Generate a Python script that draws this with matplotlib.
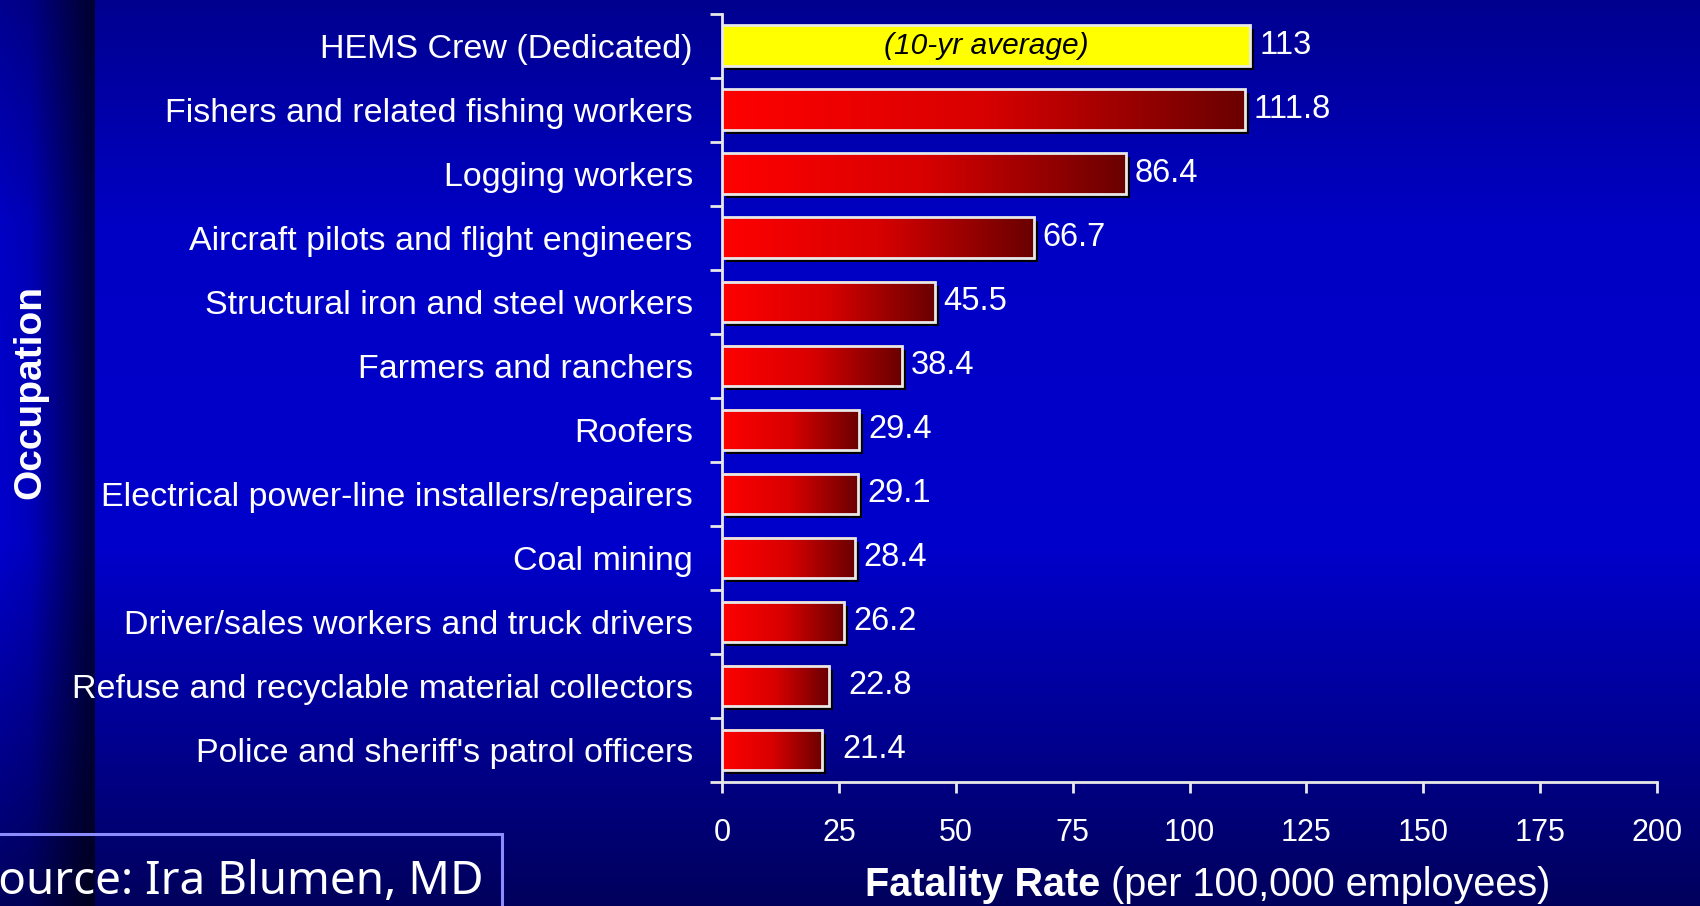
import numpy as np
import matplotlib
matplotlib.use("Agg")
import matplotlib.pyplot as plt
from matplotlib import transforms
from matplotlib.colors import LinearSegmentedColormap
from matplotlib.patches import Rectangle

# ---------------- data ----------------
categories = [
    "HEMS Crew (Dedicated)",
    "Fishers and related fishing workers",
    "Logging workers",
    "Aircraft pilots and flight engineers",
    "Structural iron and steel workers",
    "Farmers and ranchers",
    "Roofers",
    "Electrical power-line installers/repairers",
    "Coal mining",
    "Driver/sales workers and truck drivers",
    "Refuse and recyclable material collectors",
    "Police and sheriff's patrol officers",
]
values = [113, 111.8, 86.4, 66.7, 45.5, 38.4, 29.4, 29.1, 28.4, 26.2, 22.8, 21.4]
value_labels = ["113", "111.8", "86.4", "66.7", "45.5", "38.4", "29.4", "29.1",
                "28.4", "26.2", "22.8", "21.4"]
highlight_note = "(10-yr average)"
x_ticks = [0, 25, 50, 75, 100, 125, 150, 175, 200]
x_label_bold = "Fatality Rate"
x_label_rest = " (per 100,000 employees)"
y_label = "Occupation"
source_text = "Source: Ira Blumen, MD"

W, H = 1700, 906
fig = plt.figure(figsize=(W / 100, H / 100), dpi=100)

# ---------------- background ----------------
yy = np.linspace(0, 1, H)[:, None]
b = np.interp(yy, [0.0, 0.25, 0.6, 1.0], [0.56, 0.77, 0.80, 0.36])
strip = np.ones((1, W))
strip[0, :95] = np.interp(np.arange(95), [0, 30, 88, 94], [1.0, 0.92, 0.36, 0.36])
img = np.zeros((H, W, 3))
img[..., 2] = b * strip
bg = fig.add_axes([0, 0, 1, 1], zorder=-10)
bg.imshow(img, aspect="auto", extent=[0, W, H, 0], interpolation="bilinear")
bg.set_xlim(0, W)
bg.set_ylim(H, 0)
bg.axis("off")

# source box (text runs off the left edge as in the original slide)
bg.add_patch(Rectangle((-10, 834), 512, 100, fill=False, edgecolor="#8C8CFF", lw=2.2))
bg.text(-27, 894, source_text, color="white", fontsize=33,
        family=["Noto Sans", "DejaVu Sans"], va="baseline", ha="left")

# ---------------- main axes ----------------
left, right, top, bottom = 722, 1657, 13.5, 782
ax = fig.add_axes([left / W, 1 - bottom / H, (right - left) / W, (bottom - top) / H])
ax.set_facecolor("none")
n = len(categories)
ypos = np.arange(n)

bh = 0.63
shadow_tr = transforms.offset_copy(ax.transData, fig=fig, x=4, y=-4, units="dots")
ax.barh(ypos, values, height=bh, color="black", transform=shadow_tr, zorder=2)

red_cmap = LinearSegmentedColormap.from_list("redgrad", ["#FF0000", "#D80000", "#6A0000"])
grad = np.linspace(0, 1, 256)[None, :]
for i, v in enumerate(values):
    if i == 0:
        ax.barh(i, v, height=bh, color="#FFFF00", edgecolor="#E8E8E8", lw=2, zorder=3)
        ax.text(v / 2, i, highlight_note, ha="center", va="center", fontsize=21.5,
                style="italic", family="Liberation Sans", color="black", zorder=5)
    else:
        ax.imshow(grad, cmap=red_cmap, aspect="auto",
                  extent=[0, v, i + bh / 2, i - bh / 2], zorder=3)
        ax.barh(i, v, height=bh, facecolor="none", edgecolor="#E8E8E8", lw=2, zorder=4)

for i, (v, t) in enumerate(zip(values, value_labels)):
    gap = 20 if v < 25 else 9
    ax.annotate(t, (v, i), xytext=(gap, 0), textcoords="offset pixels",
                ha="left", va="center", color="white", fontsize=23.5,
                family="Liberation Sans", zorder=5)

ax.set_xlim(0, 200)
ax.set_ylim(n - 0.5, -0.5)

for s in ["top", "right"]:
    ax.spines[s].set_visible(False)
for s in ["left", "bottom"]:
    ax.spines[s].set_color("#E8E8E8")
    ax.spines[s].set_linewidth(2)

ax.set_xticks(x_ticks)
ax.set_xticklabels([str(t) for t in x_ticks], family="Liberation Sans",
                   fontsize=22, color="white")
ax.tick_params(axis="x", colors="#E8E8E8", length=8, width=2, pad=18, labelcolor="white")

ax.set_yticks(ypos)
ax.set_yticklabels(categories, family="Liberation Sans", fontsize=24.5, color="white")
ax.tick_params(axis="y", which="major", length=0, pad=21, labelcolor="white")
ax.set_yticks(np.arange(-0.5, n, 1.0), minor=True)
ax.tick_params(axis="y", which="minor", length=9, width=2, colors="#E8E8E8")

# x label (bold + regular)
fig.text(1100 / W, 1 - 885 / H, x_label_bold, fontsize=28.5, fontweight="bold",
         family="Liberation Sans", color="white", ha="right", va="center")
fig.text(1100 / W, 1 - 885 / H, x_label_rest, fontsize=28.5,
         family="Liberation Sans", color="white", ha="left", va="center")

# y label
fig.text(30 / W, 1 - 392 / H, y_label, rotation=90, fontsize=28, fontweight="bold",
         family="Liberation Sans", color="white", ha="center", va="center")

fig.savefig("out.png", dpi=100)
